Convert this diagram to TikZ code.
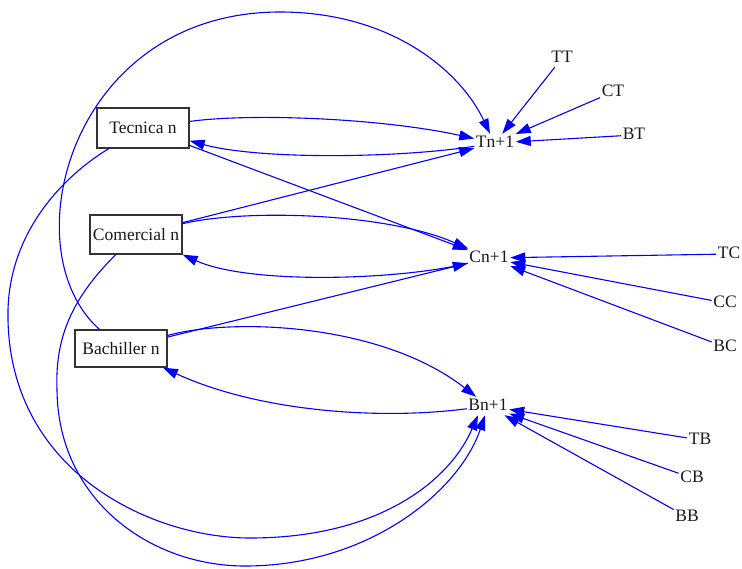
\documentclass[tikz,border=0pt]{standalone}
\usepackage{fontspec}
\setmainfont{Liberation Serif}
\usetikzlibrary{arrows.meta}
\begin{document}
\begin{tikzpicture}[x=1pt,y=-1pt,
  box/.style={draw=black!80, line width=1.3pt, minimum width=92pt, minimum height=39pt, inner sep=0pt, font=\fontsize{17.5}{20}\selectfont, text=black!90},
  lbl/.style={inner sep=1.5pt, text height=12pt, text depth=3pt, font=\fontsize{17.5}{20}\selectfont, text=black!90},
  edge/.style={draw=blue, line width=1.1pt, -{Triangle[length=15pt,width=10pt]}}]
\useasboundingbox (0,0) rectangle (742,568);
% left boxes
\node[box, minimum height=40pt] (tec) at (143,128) {Tecnica n};
\node[box] (com) at (136,234.5) {Comercial n};
\node[box, minimum height=37pt] (bach) at (121,348.5) {Bachiller n};
% targets
\node[lbl] (tn) at (495,143) {Tn+1};
\node[lbl] (cn) at (489,258) {Cn+1};
\node[lbl] (bn) at (488,406) {Bn+1};
% sources right
\node[lbl] (tt) at (562,58) {TT};
\node[lbl] (ct) at (613,92) {CT};
\node[lbl] (bt) at (634,135) {BT};
\node[lbl] (tc) at (729,254) {TC};
\node[lbl] (cc) at (725,303) {CC};
\node[lbl] (bc) at (725,347) {BC};
\node[lbl] (tb) at (700,440) {TB};
\node[lbl] (cb) at (692,478) {CB};
\node[lbl] (bb) at (687,517) {BB};
% edges between boxes and targets
\draw[edge] (tec) .. controls (250,113) and (380,118) .. (tn);
\draw[edge] (tn) .. controls (400,158) and (260,160) .. (tec);
\draw[edge] (tec) -- (cn);
\draw[edge] (com) -- (tn);
\draw[edge] (com) .. controls (250,208) and (390,214) .. (cn);
\draw[edge] (cn) .. controls (400,280) and (250,285) .. (com.south east);
\draw[edge] (bach) -- (cn);
\draw[edge] (bach) .. controls (230,318) and (380,322) .. (bn);
\draw[edge] (bn) .. controls (380,420) and (260,412) .. (bach);
% big arcs
\draw[edge] (bach) .. controls (10,250) and (70,12) .. (280,12) .. controls (390,12) and (460,70) .. ([xshift=-5pt]tn.north);
\draw[edge] (tec) .. controls (65,175) and (10,230) .. (8,310) .. controls (5,470) and (150,538) .. (250,538) .. controls (380,538) and (450,480) .. ([xshift=-10pt]bn.south);
\draw[edge] (com) .. controls (70,300) and (55,340) .. (57,390) .. controls (58,500) and (150,566) .. (245,566) .. controls (370,566) and (460,490) .. ([xshift=-3pt]bn.south);
% right sources
\draw[edge] (tt) -- (tn);
\draw[edge] (ct) -- (tn);
\draw[edge] (bt) -- (tn);
\draw[edge] (tc) -- (cn);
\draw[edge] (cc) -- (cn);
\draw[edge] (bc) -- (cn);
\draw[edge] (tb) -- (bn);
\draw[edge] (cb) -- (bn);
\draw[edge] (bb) -- (bn);
\end{tikzpicture}
\end{document}
